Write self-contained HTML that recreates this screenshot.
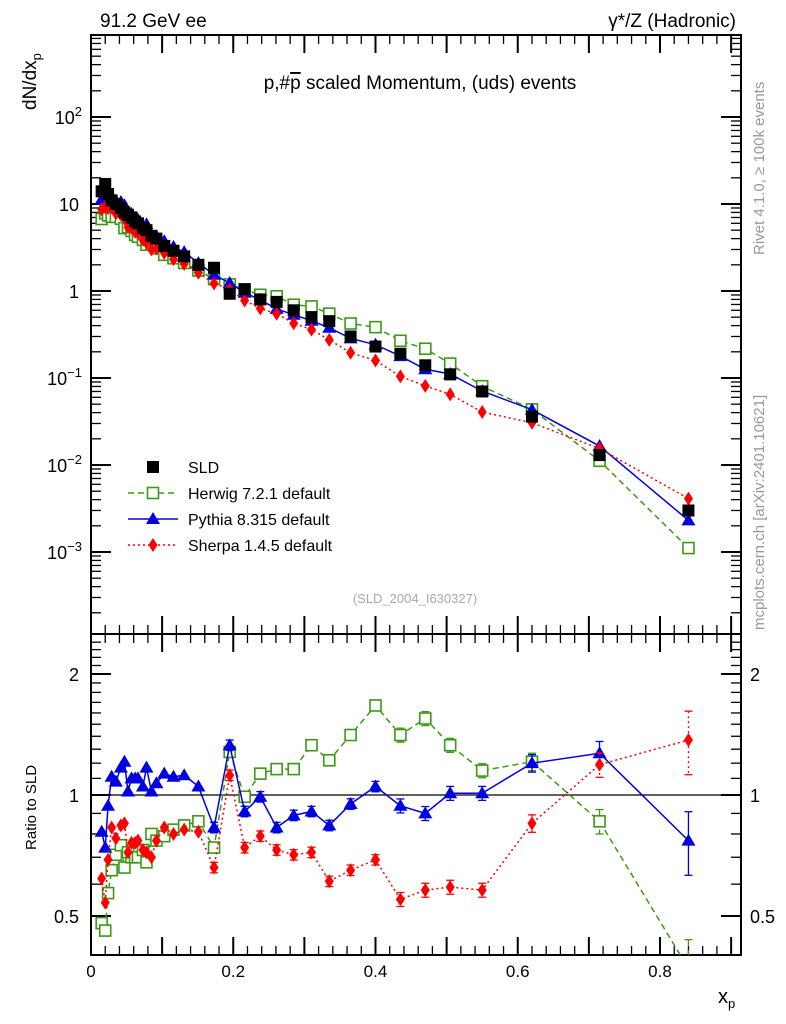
<!DOCTYPE html>
<html><head><meta charset="utf-8"><style>
body{margin:0;background:#fff}
svg{display:block;font-family:"Liberation Sans",sans-serif}
</style></head><body>
<svg id="c" width="786" height="1024">
<rect width="786" height="1024" fill="#fff"/>
<g id="plot"></g>
<text x="100" y="27" font-size="19">91.2 GeV ee</text>
<text x="736" y="27" font-size="19" text-anchor="end">γ*/Z (Hadronic)</text>
<text x="420" y="89" font-size="19" text-anchor="middle">p,#<tspan text-decoration="overline">p</tspan> scaled Momentum, (uds) events</text>
<text x="415" y="603" font-size="13" fill="#aaa" text-anchor="middle">(SLD_2004_I630327)</text>
<text transform="translate(764,255) rotate(-90)" font-size="15" fill="#999">Rivet 4.1.0, ≥ 100k events</text>
<text transform="translate(764,630) rotate(-90)" font-size="15" fill="#999">mcplots.cern.ch [arXiv:2401.10621]</text>
<text transform="translate(36,110) rotate(-90)" font-size="19">dN/dx<tspan font-size="13" dy="5">p</tspan></text>
<text transform="translate(36,850) rotate(-90)" font-size="15">Ratio to SLD</text>
<text x="718" y="1003" font-size="20">x<tspan font-size="13" dy="5">p</tspan></text>
</svg>
<script>
const xVals=[0.015,0.02,0.024,0.029,0.035,0.042,0.047,0.052,0.057,0.062,0.066,0.073,0.078,0.085,0.092,0.103,0.116,0.131,0.151,0.173,0.195,0.216,0.238,0.261,0.285,0.31,0.335,0.365,0.4,0.435,0.47,0.505,0.55,0.62,0.715,0.84];
const sldVals=[14,17,13,11,10,9,8,7.5,7,6.3,6,5.3,5,4.3,4,3.3,2.9,2.5,2.0,1.85,0.93,1.05,0.8,0.75,0.6,0.5,0.45,0.3,0.23,0.19,0.14,0.11,0.07,0.036,0.013,0.003];
const herwigRatio=[0.48,0.46,0.57,0.65,0.71,0.75,0.66,0.72,0.70,0.70,0.70,0.73,0.68,0.80,0.77,0.79,0.82,0.84,0.86,0.74,1.28,0.99,1.13,1.16,1.16,1.33,1.22,1.41,1.67,1.41,1.55,1.33,1.15,1.21,0.86,0.37];
const pythiaRatio=[0.81,0.74,0.94,1.11,1.08,1.17,1.21,1.02,1.10,1.10,1.10,1.05,1.17,1.02,1.07,1.13,1.11,1.12,1.05,0.83,1.33,0.91,0.99,0.83,0.89,0.91,0.84,0.95,1.05,0.94,0.90,1.01,1.01,1.2,1.27,0.77];
const sherpaRatio=[0.62,0.54,0.69,0.83,0.78,0.84,0.85,0.72,0.76,0.76,0.77,0.73,0.72,0.70,0.77,0.83,0.80,0.82,0.81,0.66,1.12,0.74,0.79,0.73,0.71,0.72,0.61,0.65,0.69,0.55,0.58,0.59,0.58,0.85,1.19,1.37];
const relErr=[0.02,0.02,0.02,0.02,0.02,0.02,0.02,0.02,0.02,0.02,0.02,0.02,0.02,0.02,0.02,0.02,0.02,0.02,0.02,0.03,0.03,0.03,0.03,0.03,0.03,0.03,0.03,0.03,0.03,0.04,0.04,0.04,0.04,0.05,0.07,0.18];
const yTickLabels=["10^-3","10^-1","1","10","10^2"];

const NS="http://www.w3.org/2000/svg";
const g=document.getElementById('plot');
const X0=91,X1=741,MT=35,MB=634,RB=955;
const xs=v=>X0+v*711.25;
const ys=v=>291-87*Math.log10(v);
const yr=v=>795-121*Math.log2(v);
function el(t,a,p){const e=document.createElementNS(NS,t);for(const k in a)e.setAttribute(k,a[k]);(p||g).appendChild(e);return e;}
function txt(x,y,s,sz,anc){const e=el('text',{x:x,y:y,'font-size':sz,'text-anchor':anc||'middle'});e.innerHTML=s;return e;}

// frames
const f1=el('rect',{x:X0,y:MT,width:X1-X0,height:MB-MT,fill:'none',stroke:'#000','stroke-width':2});


const f2=el('rect',{x:X0,y:MB,width:X1-X0,height:RB-MB,fill:'none',stroke:'#000','stroke-width':2});


// x ticks
for(let i=0;i<=45;i++){const v=i*0.02;if(xs(v)>X1)break;const maj=i%5==0;const L=maj?18:9;const x=xs(v);
 [[MB,-1],[RB,-1],[MT,1],[MB,1]].forEach(([y,d])=>el('line',{x1:x,x2:x,y1:y,y2:y+d*L,stroke:'#000','stroke-width':maj?2:1.3}));}
[0,0.2,0.4,0.6,0.8].forEach(v=>{const t=txt(xs(v),977,v==0?'0':v.toFixed(1),17);

});
// main y ticks
for(let d=-4;d<=2;d++){for(let m=1;m<10;m++){const v=m*Math.pow(10,d);const y=ys(v);if(y<MT||y>MB)continue;const L=m==1?20:10;
 el('line',{x1:X0,x2:X0+L,y1:y,y2:y,stroke:'#000','stroke-width':m==1?2:1.3});
 el('line',{x1:X1,x2:X1-L,y1:y,y2:y,stroke:'#000','stroke-width':m==1?2:1.3});}}
[[1e-3,'10<tspan font-size="13" dy="-8">−3</tspan>'],[1e-2,'10<tspan font-size="13" dy="-8">−2</tspan>'],[0.1,'10<tspan font-size="13" dy="-8">−1</tspan>'],[1,'1'],[10,'10'],[100,'10<tspan font-size="13" dy="-8">2</tspan>']].forEach(([v,s])=>{
 const t=txt(v>=10&&v<100?79:(v==1?79:82),ys(v)+7,s,18,'end');
 
 });
// ratio y ticks
[0.4,0.5,0.6,0.7,0.8,0.9,1,2].forEach(v=>{const y=yr(v);const maj=(v==0.5||v==1||v==2);const L=maj?20:10;
 el('line',{x1:X0,x2:X0+L,y1:y,y2:y,stroke:'#000','stroke-width':maj?2:1.3});
 el('line',{x1:X1,x2:X1-L,y1:y,y2:y,stroke:'#000','stroke-width':maj?2:1.3});});
for(let v=1.1;v<2.5;v+=0.1){if(Math.abs(v-2)<0.01)continue;const y=yr(v);el('line',{x1:X0,x2:X0+10,y1:y,y2:y,stroke:'#000','stroke-width':1.3});el('line',{x1:X1,x2:X1-10,y1:y,y2:y,stroke:'#000','stroke-width':1.3});}
[[0.5,'0.5'],[1,'1'],[2,'2']].forEach(([v,s])=>{
 const a=txt(79,yr(v)+7,s,18,'end');
 const b=txt(750,yr(v)+7,s,18,'start');});
const one=el('line',{x1:X0,x2:X1,y1:yr(1),y2:yr(1),stroke:'#000','stroke-width':1.3});



const clipM=el('clipPath',{id:'cm'});el('rect',{x:X0,y:MT,width:X1-X0,height:MB-MT},clipM);
const clipR=el('clipPath',{id:'cr'});el('rect',{x:X0,y:MB,width:X1-X0,height:RB-MB},clipR);

function marker(p,x,y,type,col){
 if(type=='sq')el('rect',{x:x-6,y:y-6,width:12,height:12,fill:'#000'},p);
 else if(type=='osq')el('rect',{x:x-5.5,y:y-5.5,width:11,height:11,fill:'#fff',stroke:col,'stroke-width':1.6},p);
 else if(type=='tri')el('polygon',{points:`${x},${y-7} ${x-7},${y+5} ${x+7},${y+5}`,fill:col},p);
 else el('polygon',{points:`${x},${y-7} ${x-4.5},${y} ${x},${y+7} ${x+4.5},${y}`,fill:col},p);}

const series=[['herwig',herwigRatio,'#3a9a14','osq','6,4'],['pythia',pythiaRatio,'#0000e0','tri',''],['sherpa',sherpaRatio,'#ff0000','dia','2,3']];
series.forEach(([nm,r,col,type,dash])=>{
 const gm=el('g',{'clip-path':'url(#cm)'});
 const gr=el('g',{'clip-path':'url(#cr)'});
 const pm=[],pr=[];
 xVals.forEach((x,i)=>{pm.push(xs(x)+','+ys(sldVals[i]*r[i]));pr.push(xs(x)+','+yr(r[i]));});
 el('polyline',{points:pm.join(' '),fill:'none',stroke:col,'stroke-width':1.5,'stroke-dasharray':dash},gm);
 el('polyline',{points:pr.join(' '),fill:'none',stroke:col,'stroke-width':1.5,'stroke-dasharray':dash},gr);
 xVals.forEach((x,i)=>{const v=r[i],e=relErr[i];
  el('line',{x1:xs(x),x2:xs(x),y1:yr(v*(1+e)),y2:yr(v*(1-e)),stroke:col,'stroke-width':1.3,'stroke-dasharray':dash},gr);
  if(e>0.025){[v*(1+e),v*(1-e)].forEach(q=>el('line',{x1:xs(x)-4,x2:xs(x)+4,y1:yr(q),y2:yr(q),stroke:col,'stroke-width':1.3},gr));}
  marker(gm,xs(x),ys(sldVals[i]*v),type,col);marker(gr,xs(x),yr(v),type,col);});
});
const gs=el('g',{'clip-path':'url(#cm)'});
xVals.forEach((x,i)=>marker(gs,xs(x),ys(sldVals[i]),'sq','#000'));

// legend
const lg=el('g',{});
const items=[['SLD','sq','#000',''],['Herwig 7.2.1 default','osq','#3a9a14','6,4'],['Pythia 8.315 default','tri','#0000e0',''],['Sherpa 1.4.5 default','dia','#ff0000','2,3']];
items.forEach(([s,type,col,dash],i)=>{const y=467+26*i;const ge=el('g',{},lg);
 
 if(i>0)el('line',{x1:128,x2:178,y1:y,y2:y,stroke:col,'stroke-width':1.5,'stroke-dasharray':dash},ge);
 marker(ge,153,y,type,col);
 const t=el('text',{x:188,y:y+6,'font-size':16},ge);t.textContent=s;});
</script>
</body></html>
